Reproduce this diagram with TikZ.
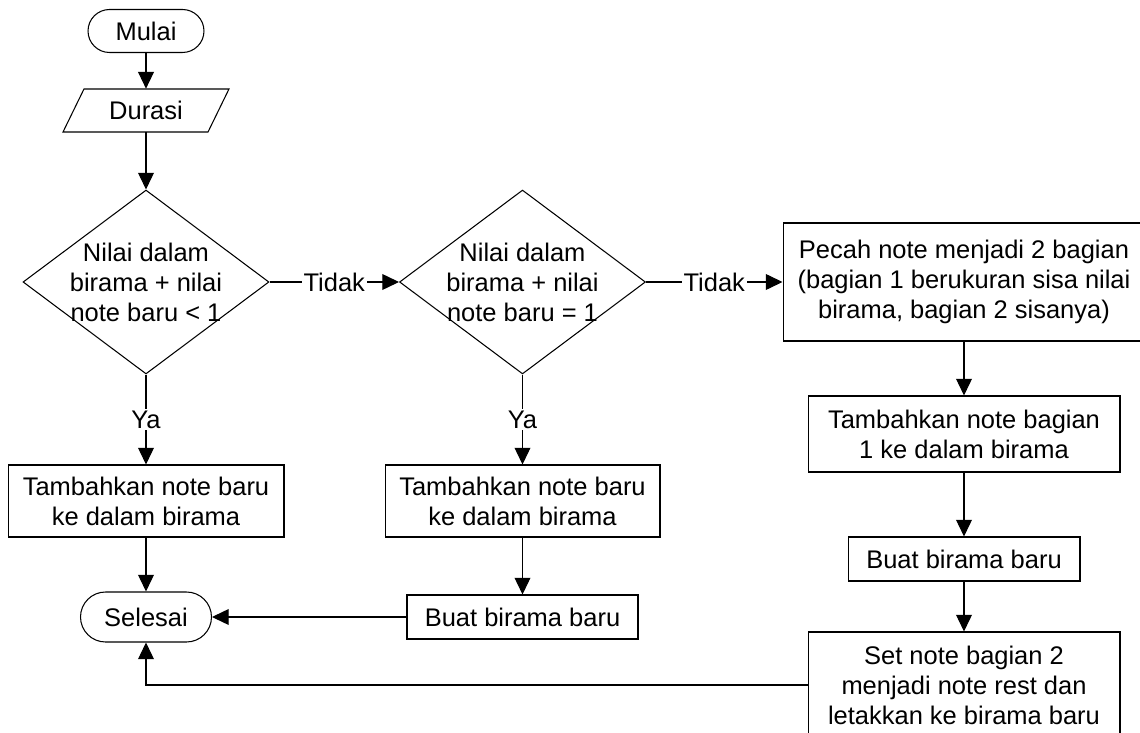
\documentclass[tikz,border=0pt]{standalone}
\usepackage{fontspec}
\setmainfont{Liberation Sans}
\usepackage{tikz}
\usetikzlibrary{calc,arrows.meta,shapes.geometric}
\tikzset{
  ar/.style={-{Triangle[length=9.5pt,width=9pt]},line width=0.6pt},
  ln/.style={line width=0.6pt},
  box/.style={draw,line width=0.6pt,align=center,inner sep=2pt},
  term/.style={box,rounded corners=#1},
  dec/.style={diamond,draw,line width=0.6pt,inner sep=0pt,minimum width=4.92cm,minimum height=3.68cm},
  lbl/.style={fill=white,inner sep=1pt}
}

\begin{document}
\begin{tikzpicture}[x=0.02cm,y=0.02cm,font=\fontsize{14.5}{17.1}\selectfont]
\useasboundingbox (0,0) rectangle (1140,-733);
% kolom kiri
\node[term=0.43cm,minimum width=2.32cm,minimum height=0.86cm] (mulai) at (146,-31) {Mulai};
\node[minimum width=2.9cm,minimum height=0.86cm,inner sep=0pt] (durasi) at (146,-110.5) {Durasi};
\draw[ln] ($(durasi)+(-62,21.5)$) -- ($(durasi)+(83,21.5)$) -- ($(durasi)+(62,-21.5)$) -- ($(durasi)+(-83,-21.5)$) -- cycle;
\node[dec] (dec1) at (146,-282) {};
\node[align=center] (dec1t) at (dec1) {Nilai dalam\\birama + nilai\\note baru < 1};
\node[box,minimum width=5.52cm,minimum height=1.44cm] (tambah1) at (146,-501) {Tambahkan note baru\\ke dalam birama};
\node[term=0.5cm,minimum width=2.62cm,minimum height=1cm] (selesai) at (146,-617) {Selesai};
% kolom tengah
\node[dec] (dec2) at (522.5,-282) {};
\node[align=center] (dec2t) at (dec2) {Nilai dalam\\birama + nilai\\note baru = 1};
\node[box,minimum width=5.5cm,minimum height=1.44cm] (tambah2) at (522.5,-501) {Tambahkan note baru\\ke dalam birama};
\node[box,minimum width=4.62cm,minimum height=0.88cm] (buat1) at (522.5,-617) {Buat birama baru};
% kolom kanan
\node[box,minimum width=7.24cm,minimum height=2.36cm] (pecah) at (964,-282) {Pecah note menjadi 2 bagian\\(bagian 1 berukuran sisa nilai\\birama, bagian 2 sisanya)};
\node[box,minimum width=6.24cm,minimum height=1.52cm] (tambah3) at (964,-434) {Tambahkan note bagian\\1 ke dalam birama};
\node[box,minimum width=4.64cm,minimum height=0.88cm] (buat2) at (964,-559) {Buat birama baru};
\node[box,minimum width=6.24cm,minimum height=2.12cm] (setnote) at (964,-685) {Set note bagian 2\\menjadi note rest dan\\letakkan ke birama baru};
% panah
\draw[ar] (mulai.south) -- (durasi.north);
\draw[ar] (durasi.south) -- (dec1.north);
\draw[ar] (dec1.east) -- node[lbl] (tidak1) {Tidak} (dec2.west);
\draw[ar] (dec2.east) -- node[lbl] (tidak2) {Tidak} (pecah.west);
\draw[ar] (dec1.south) -- node[lbl] (ya1) {Ya} (tambah1.north);
\draw[ar] (dec2.south) -- node[lbl] (ya2) {Ya} (tambah2.north);
\draw[ar] (tambah1) -- (selesai);
\draw[ar] (tambah2) -- (buat1);
\draw[ar] (buat1) -- (selesai);
\draw[ar] (pecah) -- (tambah3);
\draw[ar] (tambah3) -- (buat2);
\draw[ar] (buat2) -- (setnote);
\draw[ar] (setnote.west) -| (selesai.south);
\end{tikzpicture}
\end{document}
